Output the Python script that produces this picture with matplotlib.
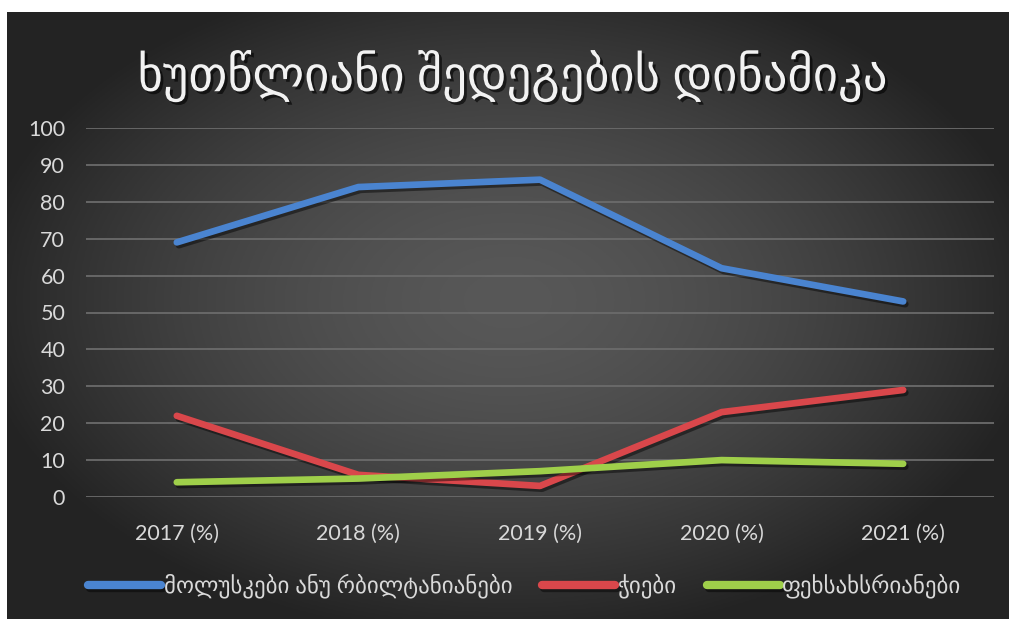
import numpy as np
import matplotlib.pyplot as plt
import matplotlib.patheffects as pe

plt.rcParams['font.family'] = ['Lato', 'DejaVu Sans']

# five years of results, in percent
years = ['2017 (%)', '2018 (%)', '2019 (%)', '2020 (%)', '2021 (%)']
molluscs = [69, 84, 86, 62, 53]
worms = [22, 6, 3, 23, 29]
arthropods = [4, 5, 7, 10, 9]

series_names = ['მოლუსკები ანუ რბილტანიანები', 'ჭიები', 'ფეხსახსრიანები']
series_colors = ['#4a84d0', '#d9474b', '#9fcf4a']
title = 'ხუთწლიანი შედეგების დინამიკა'

text_color = '#d9d9d9'

fig = plt.figure(figsize=(10.09, 6.22), dpi=100, facecolor='white')

# dark radial gradient panel behind everything
bg = fig.add_axes([7 / 1009, 3 / 622, 1002 / 1009, 607 / 622])
bg.set_axis_off()
gx, gy = np.meshgrid(np.linspace(-1, 1, 400), np.linspace(-1, 1, 300))
r = np.sqrt((gx / 1.05) ** 2 + ((gy + 0.05) / 1.1) ** 2)
shade = np.clip(0.345 - 0.2 * r ** 1.6, 0.14, 1)
bg.imshow(np.dstack([shade] * 3), aspect='auto', extent=[0, 1, 0, 1])

ax = fig.add_axes([86 / 1009, 125 / 622, 908 / 1009, 369 / 622])
ax.set_facecolor('none')

x = np.arange(len(years))
shadow = [pe.SimpleLineShadow(offset=(1.5, -2), shadow_color='black', alpha=0.45), pe.Normal()]
for vals, name, color in zip([molluscs, worms, arthropods], series_names, series_colors):
    ax.plot(x, vals, color=color, lw=4.8, label=name, solid_capstyle='round',
            solid_joinstyle='round', clip_on=False, path_effects=shadow, zorder=3)

ax.set_xlim(-0.5, len(years) - 0.5)
ax.set_ylim(0, 100)
ax.set_yticks(range(0, 101, 10))
ax.set_xticks(x)
ax.set_xticklabels(years)
ax.grid(axis='y', color='#6b6b6b', lw=1.3)
ax.set_axisbelow(True)
for s in ax.spines.values():
    s.set_visible(False)
ax.tick_params(length=0, colors=text_color, labelsize=15.5)
ax.tick_params(axis='x', pad=19)
ax.tick_params(axis='y', pad=15)

fig.text(0.508, 1 - 76 / 622, title, ha='center', va='center', fontsize=35,
         color='#f2f2f2',
         path_effects=[pe.SimplePatchShadow(offset=(2, -2), shadow_rgbFace='black', alpha=0.6),
                       pe.Normal()])

leg = fig.legend(loc='center', bbox_to_anchor=(0.52, 1 - 586 / 622), ncol=3,
                 frameon=False, fontsize=16.5, handlelength=3.2, handletextpad=0.1,
                 columnspacing=1.3, labelcolor=text_color)
for h in leg.get_lines():
    h.set_linewidth(6)

fig.savefig('out.png', dpi=100, facecolor='white')
